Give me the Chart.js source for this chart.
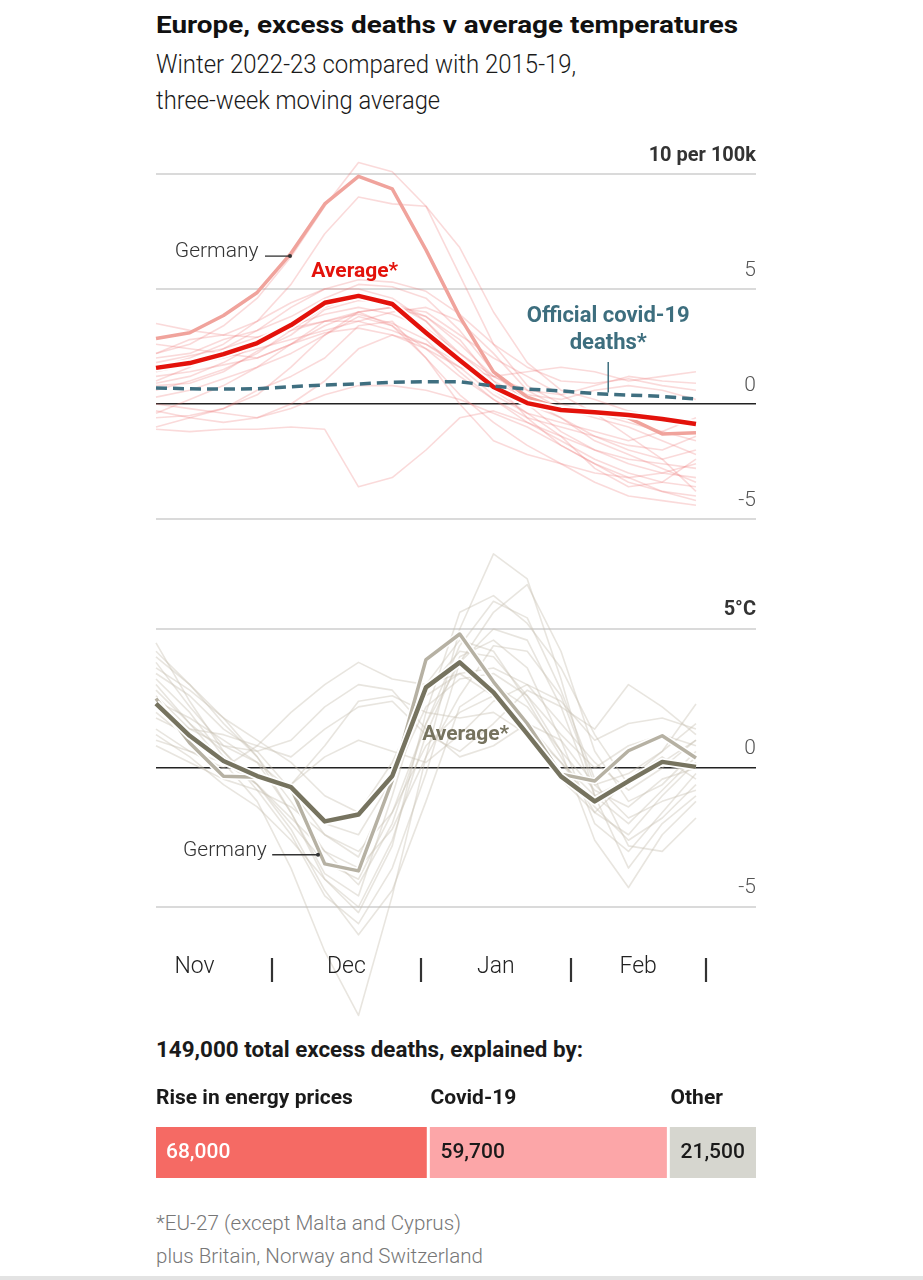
<!DOCTYPE html>
<html><head><meta charset="utf-8">
<script src="https://cdn.jsdelivr.net/npm/chart.js@4.4.1/dist/chart.umd.min.js"></script>
<style>
html,body{margin:0;padding:0;background:#fff;}
body{width:923px;height:1280px;position:relative;overflow:hidden;font-family:Roboto,"Noto Sans",sans-serif;}
.t{position:absolute;left:156px;white-space:nowrap;transform-origin:0 0;}
canvas{position:absolute;left:0;}
#rule{position:absolute;left:0;top:1276px;width:923px;height:4px;background:#e3e3e3;}
</style></head><body>
<div class="t" data-w="582" style="top:13px;font-size:24px;line-height:24px;font-weight:700;color:#111;">Europe, excess deaths v average temperatures</div>
<div class="t" data-w="420" style="top:51px;font-size:26px;line-height:26px;font-weight:300;color:#1a1a1a;">Winter 2022-23 compared with 2015-19,</div>
<div class="t" data-w="284" style="top:87px;font-size:26px;line-height:26px;font-weight:300;color:#1a1a1a;">three-week moving average</div>
<canvas id="c1" width="923" height="409" style="top:130px"></canvas>
<canvas id="c2" width="923" height="490" style="top:540px"></canvas>
<div class="t" data-w="427" style="top:1039px;font-size:22px;line-height:22px;font-weight:700;color:#1a1a1a;">149,000 total excess deaths, explained by:</div>
<canvas id="c3" width="923" height="120" style="top:1070px"></canvas>
<div class="t" data-w="305" style="top:1213px;font-size:21px;line-height:21px;font-weight:300;color:#777;">*EU-27 (except Malta and Cyprus)</div>
<div class="t" data-w="327" style="top:1246px;font-size:21px;line-height:21px;font-weight:300;color:#777;">plus Britain, Norway and Switzerland</div>
<div id="rule"></div>
<script>
// ---------- DATA ----------
const weekDays = [0,7,14,21,28,35,42,49,56,63,70,77,84,91,98,105,112]; // days from ~7 Nov
const monthLabels = ['Nov','Dec','Jan','Feb'];
const monthMidDays = [8,39.5,70.5,100];
const monthStartDays = [24,55,86,114];

const deathTicks = [-5,0,5,10];
const deathTickLabels = ['-5','0','5','10 per 100k'];
const tempTicks = [-5,0,5];
const tempTickLabels = ['-5','0','5°C'];

// Excess deaths per 100k
const deathsAverage = [1.57,1.78,2.17,2.65,3.43,4.4,4.7,4.35,3.1,1.9,0.74,0.04,-0.26,-0.36,-0.48,-0.65,-0.87];
const deathsGermany = [2.85,3.1,3.85,4.85,6.55,8.7,9.9,9.35,6.7,3.8,1.4,0.3,-0.2,-0.35,-0.6,-1.3,-1.25];
const covidDeaths   = [0.7,0.66,0.65,0.66,0.75,0.83,0.87,0.95,0.97,0.97,0.78,0.65,0.57,0.45,0.39,0.33,0.22];
const dC01 = [2.2,2.6,3.4,4.6,6.4,8.6,10.5,10.1,8.6,5.6,2.6,0.8,0.0,-0.4,-0.8,-1.2,-1.6];
const dC02 = [1.6,2.0,2.6,3.6,5.2,7.4,9.0,8.7,8.6,6.8,4.0,1.8,0.6,0.2,-0.3,-0.6,-0.9];
const dC03 = [1.0,1.6,2.4,3.2,4.2,5.0,5.4,5.3,4.9,3.9,2.6,1.6,1.0,0.9,1.1,0.8,0.6];
const dC04 = [3.5,3.2,3.0,3.6,4.4,5.0,5.0,4.6,3.6,2.2,1.0,0.2,-0.6,-1.6,-2.2,-2.8,-3.4];
const dC05 = [2.0,2.2,2.8,3.2,3.8,4.6,5.2,5.1,4.6,3.2,1.4,0.0,-1.2,-2.0,-2.6,-3.0,-3.2];
const dC06 = [0.6,1.0,1.5,2.2,3.2,4.2,4.7,4.4,3.8,2.6,1.2,0.4,0.2,0.6,0.8,0.6,0.2];
const dC07 = [-0.4,0.2,0.8,1.6,2.6,3.6,4.0,4.2,3.8,2.8,1.0,-0.6,-1.8,-2.6,-3.2,-3.8,-4.2];
const dC08 = [-1.1,-1.2,-1.1,-1.1,-1.0,-1.1,-3.6,-3.2,-2.0,-0.6,-0.3,-0.8,-1.4,-2.0,-2.4,-2.6,-2.8];
const dC09 = [-1.0,-0.6,-0.2,0.4,1.6,3.0,4.0,3.4,2.0,0.4,-0.8,-1.8,-2.6,-3.4,-4.0,-4.2,-4.4];
const dC10 = [1.8,2.1,2.4,2.9,3.4,3.9,4.2,3.9,3.3,2.2,1.2,0.6,0.4,0.8,1.2,1.0,0.9];
const dC11 = [0.9,1.2,1.8,2.6,3.3,3.6,3.6,3.2,2.6,1.8,0.8,0.0,-0.6,-1.4,-2.0,-2.4,-2.0];
const dC12 = [2.6,2.4,2.2,2.0,2.6,3.4,4.0,4.2,4.0,3.0,2.0,1.2,0.4,-0.4,-1.4,-2.4,-3.8];
const dC13 = [-0.6,-0.5,-0.2,0.6,1.2,2.0,3.4,3.6,2.0,0.0,-1.6,-2.2,-2.6,-3.0,-3.2,-3.0,-2.6];
const dC14 = [1.4,1.7,2.0,2.4,2.8,3.2,3.6,4.0,4.2,3.6,2.2,0.6,-0.2,-0.6,-1.0,-1.6,-2.2];
const dC15 = [0.3,0.6,1.1,1.6,2.2,3.0,3.8,3.4,2.4,1.2,0.2,-0.8,-1.6,-2.4,-3.0,-3.4,-3.6];
const dC16 = [2.2,2.8,3.0,2.9,3.2,3.6,3.9,3.5,2.8,1.4,0.2,-0.6,-1.0,-1.4,-1.8,-2.0,-1.4];
const dC17 = [0.0,-0.2,-0.4,-0.6,-0.2,0.4,0.8,0.8,0.6,0.2,-0.4,-1.0,-1.8,-2.6,-3.4,-3.8,-4.0];
const dC18 = [1.2,1.4,1.7,2.0,2.6,3.1,3.3,3.0,2.4,1.6,1.2,1.4,1.6,1.4,1.0,1.2,1.4];
const dC19 = [0.8,0.9,1.4,2.3,3.0,4.1,4.5,4.4,3.6,2.0,0.6,-0.4,-1.4,-2.8,-3.6,-3.4,-2.4];
const dC20 = [-0.3,-0.6,-0.8,-0.6,0.0,1.0,2.4,3.0,2.6,1.6,0.4,-0.4,-0.8,-1.2,-1.6,-1.2,-0.6];

// Temperature vs 2015-19 average, °C
const tempAverage = [2.32,1.16,0.25,-0.29,-0.69,-1.92,-1.67,-0.29,2.9,3.8,2.72,1.23,-0.3,-1.2,-0.47,0.22,0.04];
const tempGermany = [2.5,0.9,-0.3,-0.33,-0.7,-3.45,-3.7,-0.45,3.9,4.82,3.1,1.6,-0.22,-0.47,0.62,1.16,0.36];
const tC01 = [3.0,1.6,0.2,-1.2,-3.6,-6.6,-8.9,-4.6,0.4,5.0,7.7,6.8,3.2,-1.0,-3.6,-2.0,-1.0];
const tC02 = [1.4,0.6,0.0,0.8,2.0,3.0,3.8,3.2,3.0,3.4,2.6,1.4,0.2,-1.4,-2.6,-1.8,-0.6];
const tC03 = [4.5,2.4,0.6,-0.8,-2.4,-4.6,-5.6,-3.6,-0.2,3.8,5.6,6.6,4.2,0.6,-1.2,-0.6,0.6];
const tC04 = [3.8,2.2,0.8,0.2,-1.6,-3.8,-4.6,-1.0,3.0,4.6,4.2,2.4,0.4,-1.6,-2.4,-1.0,0.2];
const tC05 = [2.6,1.4,1.2,0.8,0.4,1.4,2.2,2.4,1.2,0.6,1.6,2.8,2.2,1.4,3.0,2.2,1.2];
const tC06 = [1.2,0.4,-0.6,-1.4,-2.6,-4.0,-5.0,-2.6,1.2,4.0,4.6,3.6,1.0,-2.0,-3.0,-1.6,-0.2];
const tC07 = [3.4,2.6,1.4,0.6,-0.8,-2.4,-3.2,-0.6,2.6,3.4,3.6,3.0,1.6,0.2,-0.8,0.0,1.0];
const tC08 = [2.0,1.0,0.2,-0.2,-0.6,0.8,2.4,2.6,2.0,1.8,2.0,1.2,-0.4,-1.6,-0.4,0.6,2.3];
const tC09 = [4.0,3.0,1.6,0.4,-1.2,-3.0,-4.2,-2.0,1.6,4.4,6.0,5.4,2.8,-0.4,-2.8,-3.0,-1.8];
const tC10 = [0.8,0.2,-0.4,-0.8,-1.4,-2.4,-3.0,-1.6,0.8,2.0,2.6,1.6,0.2,-1.0,-0.4,0.4,-0.4];
const tC11 = [2.4,1.8,1.0,0.2,-0.8,-2.0,-2.4,-0.4,2.2,3.2,3.4,2.6,1.2,0.0,0.8,1.2,0.8];
const tC12 = [3.2,2.0,0.4,-0.6,-2.0,-3.4,-4.0,-1.6,1.6,3.8,5.0,4.6,2.2,-1.0,-2.0,-0.8,0.4];
const tC13 = [1.8,1.2,0.4,-0.4,-0.6,0.4,1.0,0.6,0.2,1.2,2.4,3.0,2.4,1.0,1.6,1.8,1.4];
const tC14 = [2.8,1.6,0.6,-0.6,-1.8,-3.0,-3.6,-2.2,0.4,2.6,4.4,4.2,2.6,-0.6,-1.8,-1.2,-0.8];
const tC15 = [3.6,2.8,1.8,1.0,0.2,-1.0,-1.6,0.2,2.8,4.2,4.0,2.6,0.6,-0.8,-1.4,-0.4,0.0];
const tC16 = [1.0,0.6,0.2,-0.6,-2.2,-4.4,-6.0,-4.4,-1.2,2.2,3.0,2.2,0.6,-2.6,-4.3,-2.4,-1.2];
const tC17 = [2.2,1.4,0.8,0.6,1.0,2.2,3.0,2.8,1.4,0.4,0.8,1.6,1.0,-0.6,-0.2,0.6,1.6];
const tC18 = [4.2,3.0,1.8,0.4,-1.6,-4.0,-5.2,-2.8,2.0,5.6,6.2,5.2,3.6,1.2,-0.6,0.2,1.0];

// Breakdown of excess deaths
const causeLabels = ['Rise in energy prices','Covid-19','Other'];
const causeValues = [68000,59700,21500];
const causeValueLabels = ['68,000','59,700','21,500'];

// ---------- STYLE ----------
const FONT = 'Roboto, "Noto Sans", sans-serif';
const deathCountries = [dC01,dC02,dC03,dC04,dC05,dC06,dC07,dC08,dC09,dC10,dC11,dC12,dC13,dC14,dC15,dC16,dC17,dC18,dC19,dC20];
const tempCountries = [tC01,tC02,tC03,tC04,tC05,tC06,tC07,tC08,tC09,tC10,tC11,tC12,tC13,tC14,tC15,tC16,tC17,tC18];

function series(arr){ return weekDays.map((d,i)=>({x:d,y:arr[i]})); }
function line(arr, color, width, order, extra){
  return Object.assign({data:series(arr), borderColor:color, borderWidth:width, order:order,
    pointRadius:0, pointHoverRadius:0, tension:0, clip:false, fill:false,
    borderJoinStyle:'round', borderCapStyle:'butt'}, extra||{});
}

// annotation plugin: text and leader lines positioned in data units
const annotPlugin = {
  id:'annot',
  afterDatasetsDraw(chart){
    const cfg = chart.options.plugins.annot; if(!cfg) return;
    const ctx = chart.ctx, xs = chart.scales.x, ys = chart.scales.y;
    ctx.save();
    (cfg.lines||[]).forEach(l=>{
      ctx.strokeStyle = l.color; ctx.lineWidth = l.width||1.2;
      ctx.beginPath();
      ctx.moveTo(xs.getPixelForValue(l.x1), ys.getPixelForValue(l.y1));
      ctx.lineTo(xs.getPixelForValue(l.x2), ys.getPixelForValue(l.y2));
      ctx.stroke();
      if(l.dot){ ctx.fillStyle=l.color; ctx.beginPath();
        ctx.arc(xs.getPixelForValue(l.x2), ys.getPixelForValue(l.y2), 2, 0, Math.PI*2); ctx.fill(); }
    });
    (cfg.texts||[]).forEach(t=>{
      ctx.font = t.font; ctx.fillStyle = t.color; ctx.textAlign = t.align||'left'; ctx.textBaseline='middle';
      ctx.fillText(t.text, xs.getPixelForValue(t.x), ys.getPixelForValue(t.y) + 2.5);
    });
    if(cfg.months){
      ctx.font = '300 23px '+FONT; ctx.fillStyle='#222'; ctx.textAlign='center'; ctx.textBaseline='middle';
      const yy = chart.chartArea.bottom + 60;
      monthLabels.forEach((m,i)=> ctx.fillText(m, xs.getPixelForValue(monthMidDays[i]), yy));
      ctx.strokeStyle='#333'; ctx.lineWidth=2.2;
      monthStartDays.forEach(d=>{ const px = Math.round(xs.getPixelForValue(d));
        ctx.beginPath(); ctx.moveTo(px, chart.chartArea.bottom+51); ctx.lineTo(px, chart.chartArea.bottom+75); ctx.stroke(); });
    }
    ctx.restore();
  }
};

function yAxis(min, max, ticks, labels, boldTop, offset){
  return {
    type:'linear', position:'right', min:min, max:max,
    afterBuildTicks(s){ s.ticks = ticks.map(v=>({value:v})); },
    border:{display:false},
    grid:{drawTicks:false,
      color:c=> c.tick && c.tick.value===0 ? '#222' : '#dadada',
      lineWidth:c=> c.tick && c.tick.value===0 ? 1.5 : 2},
    ticks:{mirror:true, padding:0, labelOffset:offset,
      callback:(v)=> labels[ticks.indexOf(v)],
      color:c=> c.tick && c.tick.value===boldTop ? '#333' : '#555',
      font:c=> c.tick && c.tick.value===boldTop ? {family:FONT,size:20,weight:'bold'} : {family:FONT,size:21,weight:'300'}}
  };
}
const xAxis = {type:'linear', min:0, max:124.45, display:false};

Chart.defaults.font.family = FONT;

// ---------- CHART 1: excess deaths ----------
const ds1 = [
  line(covidDeaths,'#3f6f80',3.5,0,{borderDash:[11,6]}),
  line(deathsAverage,'#e3120b',4.5,1),
  line(deathsAverage,'#ffffff',8,2),
  line(deathsGermany,'#f0a39c',3.5,3),
].concat(deathCountries.map(a=>line(a,'rgba(238,120,120,0.27)',1.6,10)));

new Chart(document.getElementById('c1'),{
  type:'line',
  data:{datasets:ds1},
  options:{responsive:false, animation:false, devicePixelRatio:1, parsing:true,
    layout:{padding:{left:156,right:167,top:44,bottom:20}},
    scales:{x:xAxis, y:yAxis(-5,10,deathTicks,deathTickLabels,10,-18.5)},
    plugins:{legend:{display:false}, tooltip:{enabled:false},
      annot:{
        texts:[
          {text:'Germany',x:3.9,y:6.74,color:'#333',font:'300 21px '+FONT},
          {text:'Average*',x:32.2,y:5.87,color:'#e3120b',font:'bold 21px '+FONT},
          {text:'Official covid-19',x:93.8,y:3.91,color:'#3d6e7e',font:'bold 22px '+FONT,align:'center'},
          {text:'deaths*',x:93.8,y:2.74,color:'#3d6e7e',font:'bold 22px '+FONT,align:'center'}
        ],
        lines:[
          {x1:22.6,y1:6.43,x2:27.8,y2:6.43,color:'#333',width:1.3,dot:true},
          {x1:93.8,y1:1.83,x2:93.8,y2:0.5,color:'#3d6e7e',width:1.5}
        ]}
    }},
  plugins:[annotPlugin]
});

// ---------- CHART 2: temperature ----------
const ds2 = [
  line(tempAverage,'#76735f',4.5,1),
  line(tempAverage,'#ffffff',8,2),
  line(tempGermany,'#b6b1a3',3.5,3),
  line(tempGermany,'#ffffff',6.5,4),
].concat(tempCountries.map(a=>line(a,'rgba(200,194,178,0.42)',1.6,10)));

new Chart(document.getElementById('c2'),{
  type:'line',
  data:{datasets:ds2},
  options:{responsive:false, animation:false, devicePixelRatio:1,
    layout:{padding:{left:156,right:167,top:89,bottom:123}},
    scales:{x:xAxis, y:yAxis(-5,5,tempTicks,tempTickLabels,5,-19)},
    plugins:{legend:{display:false}, tooltip:{enabled:false},
      annot:{
        months:true,
        texts:[
          {text:'Average*',x:55.2,y:1.3,color:'#76735f',font:'bold 21px '+FONT},
          {text:'Germany',x:5.6,y:-2.9,color:'#333',font:'300 21px '+FONT}
        ],
        lines:[{x1:24.1,y1:-3.12,x2:33.6,y2:-3.12,color:'#333',width:1.3,dot:true}]
      }
    }},
  plugins:[annotPlugin]
});

// ---------- CHART 3: breakdown bar ----------
const causeColors = ['#f56a64','#fca6a8','#d6d6cf'];
const barLabelPlugin = {
  id:'barLabels',
  afterDatasetsDraw(chart){
    const ctx = chart.ctx; ctx.save(); ctx.textBaseline='middle'; ctx.textAlign='left';
    chart.data.datasets.forEach((d,i)=>{
      const el = chart.getDatasetMeta(i).data[0];
      const left = Math.min(el.base, el.x) + (i>0?1:0);
      ctx.font = 'bold 21px '+FONT; ctx.fillStyle='#1a1a1a';
      ctx.fillText(causeLabels[i], left, chart.chartArea.top - 28);
      ctx.font = '500 21px '+FONT; ctx.fillStyle = i===0 ? '#ffffff' : '#1a1a1a';
      ctx.fillText(causeValueLabels[i], left + 10, el.y);
    });
    ctx.restore();
  }
};
new Chart(document.getElementById('c3'),{
  type:'bar',
  data:{labels:['Excess deaths'],
    datasets: causeValues.map((v,i)=>({label:causeLabels[i], data:[v], backgroundColor:causeColors[i],
      borderColor:'#ffffff', borderWidth: i<2 ? {left:0,right:3,top:0,bottom:0} : 0, borderSkipped:false,
      barPercentage:1, categoryPercentage:1}))},
  options:{indexAxis:'y', responsive:false, animation:false, devicePixelRatio:1,
    layout:{padding:{left:156,right:167,top:57,bottom:12}},
    scales:{x:{stacked:true,min:0,max:causeValues.reduce((a,b)=>a+b,0),display:false},
            y:{stacked:true,display:false}},
    plugins:{legend:{display:false},tooltip:{enabled:false}}},
  plugins:[barLabelPlugin]
});

// fit HTML text widths
document.querySelectorAll('.t[data-w]').forEach(el=>{
  const w = el.getBoundingClientRect().width;
  const target = +el.dataset.w;
  if(w>0) el.style.transform = 'scaleX('+(target/w).toFixed(3)+')';
});
</script>
</body></html>
